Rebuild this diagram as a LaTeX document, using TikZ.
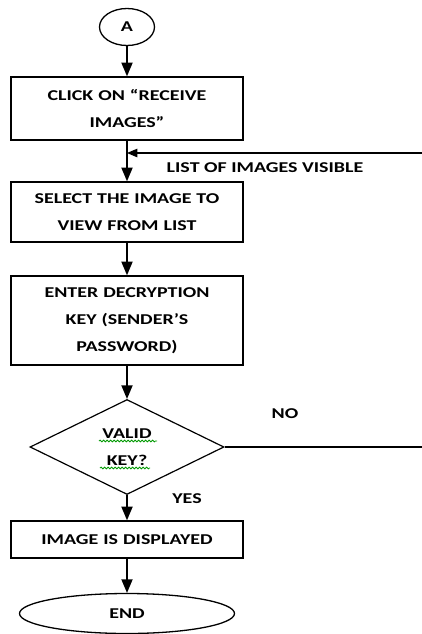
\documentclass[tikz,border=0pt]{standalone}
\usepackage{fontspec}
\setmainfont{Carlito}[FakeStretch=1.33]
\usepackage{tikz}
\usetikzlibrary{shapes,arrows}
\usetikzlibrary{positioning}
\usetikzlibrary{decorations.pathmorphing}
\tikzstyle{arrow} = [line width=2.2pt,->,>=triangle 45]
\tikzstyle{link} = [line width=1.4pt]
\tikzstyle{process} = [
    rectangle, minimum width=232pt, text centered, text width=220pt,
    line width=1.6pt, draw=black, font=\fontsize{15}{27}\selectfont\bfseries]
\tikzstyle{decision} = [
    diamond, minimum width=194pt, minimum height=95pt, inner sep=0pt,
    align=center, line width=1.2pt, draw=black, font=\fontsize{15}{27}\selectfont\bfseries]
\tikzstyle{endpoint} = [ellipse, line width=1.3pt, draw=black, font=\fontsize{15}{18}\selectfont\bfseries]
\tikzstyle{note} = [font=\fontsize{15}{18}\selectfont\bfseries]
\tikzstyle{squiggle} = [green!60!black, line width=0.8pt, decorate,
    decoration={snake, amplitude=0.9pt, segment length=3.5pt}]

\begin{document}
\begin{tikzpicture}[node distance=100pt]
\useasboundingbox (0,0) rectangle (422pt,-634pt);
\coordinate (rim) at (422pt,0);

\node (start) [endpoint, minimum width=55pt, minimum height=37pt, inner sep=0pt] at (127pt,-27pt) {A};

\node (click) [process, minimum height=63pt, below of=start, node distance=81.5pt] {
    CLICK ON “RECEIVE \\
    IMAGES”
};
\node (join) [coordinate, below of=click, node distance=44.5pt] {};

\node (pick) [process, minimum height=60pt, below of=click, node distance=103.5pt] {
    SELECT THE IMAGE TO \\
    VIEW FROM LIST
};

\node (key) [process, minimum height=89pt, below of=pick, node distance=108.5pt] {
    ENTER DECRYPTION \\
    KEY (SENDER’S \\
    PASSWORD)
};

\node (valid) [decision, below of=key, node distance=126.5pt] {
    VALID \\
    KEY?
};

\node (show) [process, minimum height=37pt, below of=valid, node distance=92.5pt] {
    IMAGE IS DISPLAYED
};

\node (stop) [endpoint, minimum width=215pt, minimum height=40pt, below of=show, node distance=74pt] {END};

% labels
\node (visible) [note] at (265pt,-168pt) {LIST OF IMAGES VISIBLE};
\node (no) [note] at (285pt,-414pt) {NO};
\node (yes) [note] at (187pt,-499pt) {YES};

% spell check marks
\draw [squiggle] ([xshift=-28pt,yshift=6pt]valid.center) -- ([xshift=30pt,yshift=6pt]valid.center);
\draw [squiggle] ([xshift=-27pt,yshift=-21pt]valid.center) -- ([xshift=23pt,yshift=-21pt]valid.center);

% connectors
\draw [arrow] (start) -- (click);
\draw [arrow] (click) -- (pick);
\draw [arrow, line width=1.4pt] (join -| rim) -- (join);
\draw [arrow] (pick) -- (key);
\draw [arrow] (key) -- (valid);
\draw [link] (valid.east) -- (valid.east -| rim);
\draw [arrow] (valid) -- (show);
\draw [arrow] (show) -- (stop);
\end{tikzpicture}
\end{document}
